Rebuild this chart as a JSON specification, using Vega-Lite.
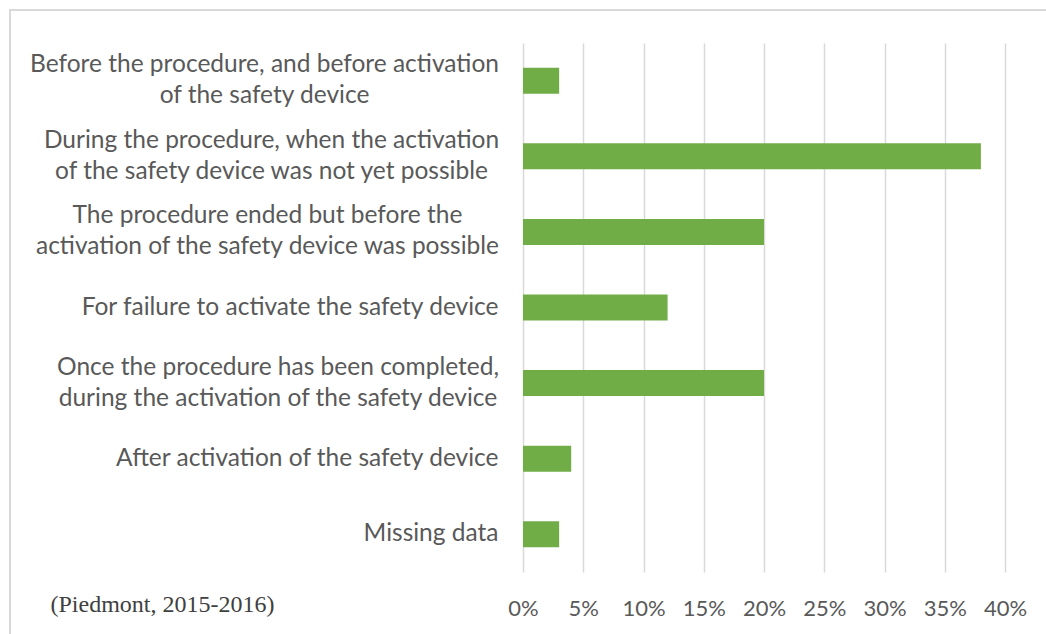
{
  "$schema": "https://vega.github.io/schema/vega-lite/v6.json",
  "width": 1040,
  "height": 630,
  "autosize": {"type": "none"},
  "padding": {"left": 10, "top": 10, "right": -4, "bottom": -6},
  "background": "white",
  "config": {"view": {"stroke": "#d9d9d9", "strokeWidth": 2}},
  "data": {
    "values": [
      {"stage": "Before the procedure, and before activation|of the safety device", "share": 0.03},
      {"stage": "During the procedure, when the activation|of the safety device was not yet possible", "share": 0.38},
      {"stage": "The procedure ended but before the|activation of the safety device was possible", "share": 0.20},
      {"stage": "For failure to activate the safety device", "share": 0.12},
      {"stage": "Once the procedure has been completed,|during the activation of the safety device", "share": 0.20},
      {"stage": "After activation of the safety device", "share": 0.04},
      {"stage": "Missing data", "share": 0.03}
    ]
  },
  "mark": {"type": "bar", "color": "#70AD47"},
  "encoding": {
    "y": {
      "field": "stage",
      "type": "nominal",
      "sort": null,
      "scale": {"range": [33, 562], "paddingInner": 0.656, "paddingOuter": 0.328},
      "axis": {
        "title": null,
        "orient": "left",
        "offset": -513,
        "domain": false,
        "ticks": false,
        "tickSize": 0,
        "grid": false,
        "labelPadding": {
          "condition": [
            {"test": "indexof(datum.value, 'Before the procedure') == 0", "value": 259},
            {"test": "indexof(datum.value, 'During the procedure') == 0", "value": 252},
            {"test": "indexof(datum.value, 'The procedure ended') == 0", "value": 256},
            {"test": "indexof(datum.value, 'Once the procedure') == 0", "value": 245.5}
          ],
          "value": 25
        },
        "labelExpr": "split(datum.label, '|')",
        "labelFont": "Lato",
        "labelFontSize": 24.5,
        "labelColor": "#595959",
        "labelLineHeight": 31,
        "labelLimit": 700,
        "labelAlign": {"condition": {"test": "indexof(datum.value, '|') >= 0", "value": "center"}, "value": "right"},
        "labelBaseline": "middle",
        "labelOffset": {"condition": {"test": "indexof(datum.value, '|') >= 0", "value": -15.5}, "value": 0}
      }
    },
    "x": {
      "field": "share",
      "type": "quantitative",
      "scale": {"domain": [0, 0.4], "range": [513, 995], "nice": false, "zero": true},
      "axis": {
        "orient": "top",
        "offset": -605,
        "values": [0, 0.05, 0.1, 0.15, 0.2, 0.25, 0.3, 0.35, 0.4],
        "format": ".0%",
        "domain": false,
        "ticks": false,
        "tickSize": 0,
        "labelPadding": 0,
        "labelAlign": "center",
        "labelFlush": false,
        "labelOverlap": false,
        "labelBaseline": "alphabetic",
        "labelFont": "Lato",
        "labelFontSize": 22,
        "labelColor": "#595959",
        "grid": true,
        "gridColor": "#d9d9d9",
        "gridWidth": 1.5,
        "title": "(Piedmont, 2015-2016)",
        "titleX": 40,
        "titleY": -3.5,
        "titleAlign": "left",
        "titleAnchor": null,
        "titleBaseline": "alphabetic",
        "titleFont": "Liberation Serif",
        "titleFontSize": 24,
        "titleFontWeight": "normal",
        "titleColor": "#404040"
      }
    }
  }
}
